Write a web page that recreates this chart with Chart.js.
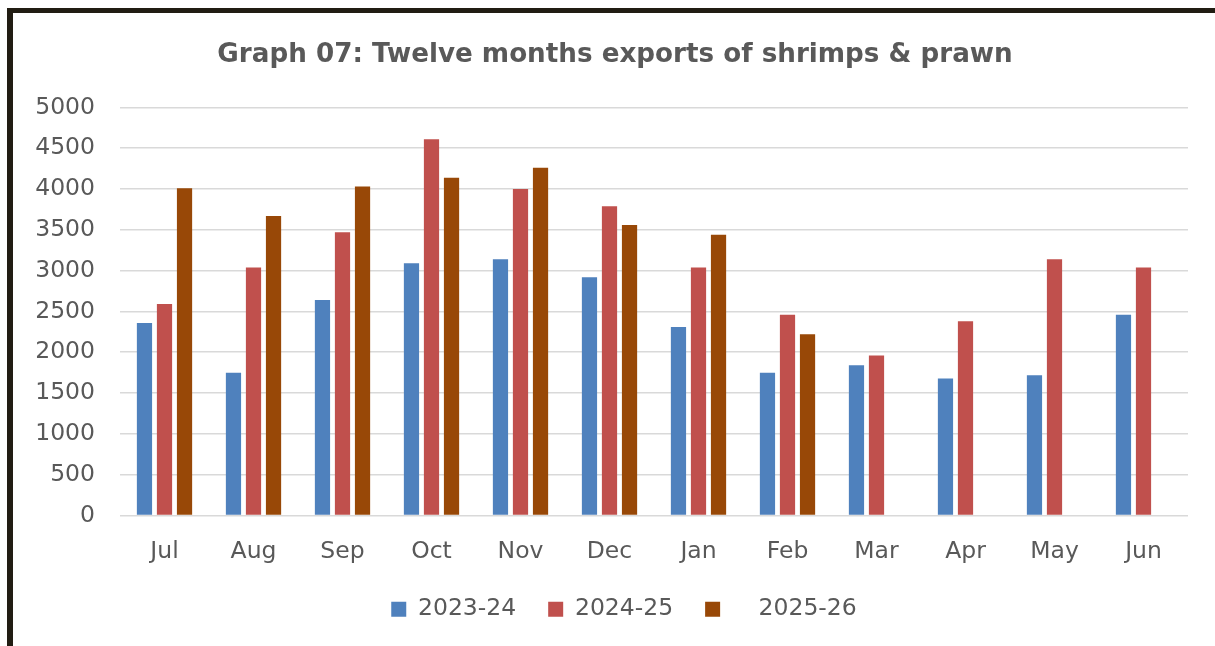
<!DOCTYPE html>
<html>
<head>
<meta charset="utf-8">
<script src="https://cdn.jsdelivr.net/npm/chart.js@4.4.1/dist/chart.umd.min.js"></script>
<style>
  html, body { margin: 0; padding: 0; background: #ffffff; overflow: hidden; }
  #wrap { position: absolute; left: 0; top: 0; width: 1215px; height: 646px; }
  #c { position: absolute; left: 0; top: 0; }
  #frame { position: absolute; left: 7px; top: 8px; width: 1230px; height: 660px;
           border-top: 5px solid #211d13; border-left: 6px solid #211d13; pointer-events: none; }
</style>
</head>
<body>
<div id="wrap">
  <canvas id="c" width="1215" height="646"></canvas>
  <div id="frame"></div>
</div>
<script>
const titleText = 'Graph 07: Twelve months exports of shrimps & prawn';
const months = ['Jul', 'Aug', 'Sep', 'Oct', 'Nov', 'Dec', 'Jan', 'Feb', 'Mar', 'Apr', 'May', 'Jun'];
const seriesNames = ['2023-24', '2024-25', '\u2002  2025-26'];
const exports2023_24 = [2360, 1750, 2640, 3090, 3140, 2920, 2310, 1750, 1840, 1680, 1720, 2460];
const exports2024_25 = [2590, 3040, 3470, 4610, 4000, 3790, 3040, 2460, 1960, 2380, 3140, 3040];
const exports2025_26 = [4010, 3670, 4030, 4140, 4260, 3560, 3440, 2220, null, null, null, null];
const yMin = 0, yMax = 5000, yStep = 500;

const colors = ['#4f81bd', '#c0504d', '#984807'];
const textColor = '#595959';

Chart.defaults.font.family = '"DejaVu Sans", sans-serif';
Chart.defaults.color = textColor;

const barOpts = { barPercentage: 0.76, categoryPercentage: 0.675, borderWidth: 0 };

// centre the title and legend slightly right of the canvas middle, as in the reference
const blockShift = {
  id: 'blockShift',
  afterLayout(chart) {
    if (chart.legend) { chart.legend.left += 30; }
    if (chart.titleBlock) { chart.titleBlock.left += 12; chart.titleBlock.right += 0; }
  }
};

new Chart(document.getElementById('c'), {
  type: 'bar',
  data: {
    labels: months,
    datasets: [
      Object.assign({ label: seriesNames[0], data: exports2023_24, backgroundColor: colors[0] }, barOpts),
      Object.assign({ label: seriesNames[1], data: exports2024_25, backgroundColor: colors[1] }, barOpts),
      Object.assign({ label: seriesNames[2], data: exports2025_26, backgroundColor: colors[2] }, barOpts)
    ]
  },
  plugins: [blockShift],
  options: {
    responsive: false,
    animation: false,
    layout: { padding: { top: 39, left: 30, right: 27, bottom: 15 } },
    plugins: {
      title: {
        display: true,
        text: titleText,
        color: textColor,
        font: { size: 26.2, weight: 'bold' },
        padding: { top: 0, bottom: 37 }
      },
      legend: {
        position: 'bottom',
        labels: {
          boxWidth: 15,
          boxHeight: 15,
          padding: 32,
          color: textColor,
          font: { size: 23.5 }
        }
      },
      tooltip: { enabled: false }
    },
    scales: {
      x: {
        grid: { display: false, drawTicks: false },
        border: { display: false },
        ticks: { padding: 22, color: textColor, font: { size: 23.5 } },
        afterFit: (s) => { s.height = 50; }
      },
      y: {
        min: yMin,
        max: yMax,
        grid: { color: '#d9d9d9', lineWidth: 1.6, drawTicks: false },
        border: { display: false },
        ticks: {
          stepSize: yStep, padding: 25, color: textColor, font: { size: 23.5 },
          callback: (v) => String(v)
        },
        afterFit: (s) => { s.width = 90; }
      }
    }
  }
});
</script>
</body>
</html>
